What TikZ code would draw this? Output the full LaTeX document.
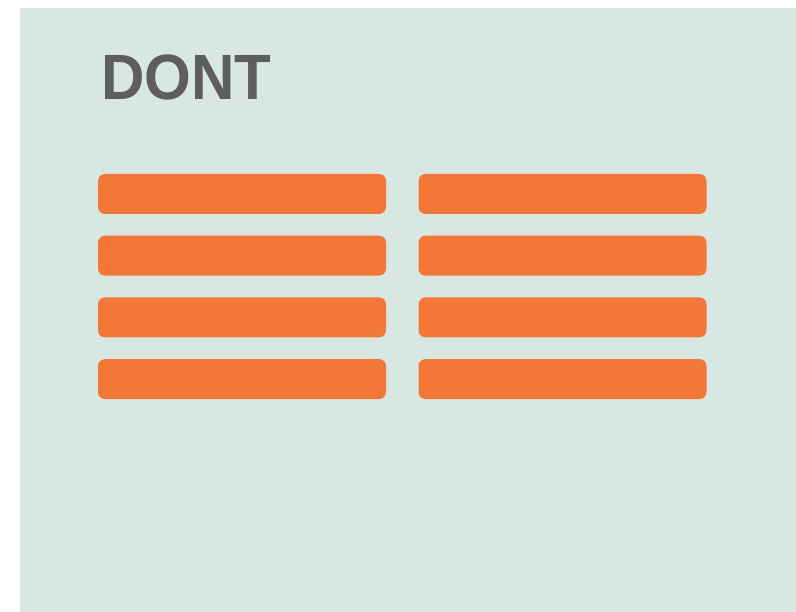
\documentclass[tikz,border=0pt]{standalone}
\usepackage{fontspec}
\setmainfont{Liberation Sans}
\usetikzlibrary{positioning}
\definecolor{panelMint}{HTML}{D8E7E1}
\definecolor{barOrange}{HTML}{F37736}
\definecolor{titleGrey}{HTML}{5E5E5E}

\begin{document}
\begin{tikzpicture}[x=1pt,y=-1pt]
\useasboundingbox (0,0) rectangle (796,612);
\fill[panelMint] (20,8) rectangle (796,612);
\node[anchor=base west,inner sep=0pt,xscale=0.94,font=\fontsize{64}{64}\selectfont\bfseries,text=titleGrey] (title) at (101,100) {DONT};
\foreach \i in {0,1,2,3}{
  \node[fill=barOrange,rounded corners=7pt,minimum width=288pt,minimum height=40pt,inner sep=0pt] (left\i) at (242,194+\i*61.7) {};
  \node[fill=barOrange,rounded corners=7pt,minimum width=288pt,minimum height=40pt,inner sep=0pt] (right\i) at (562.5,194+\i*61.7) {};
}
\end{tikzpicture}
\end{document}
